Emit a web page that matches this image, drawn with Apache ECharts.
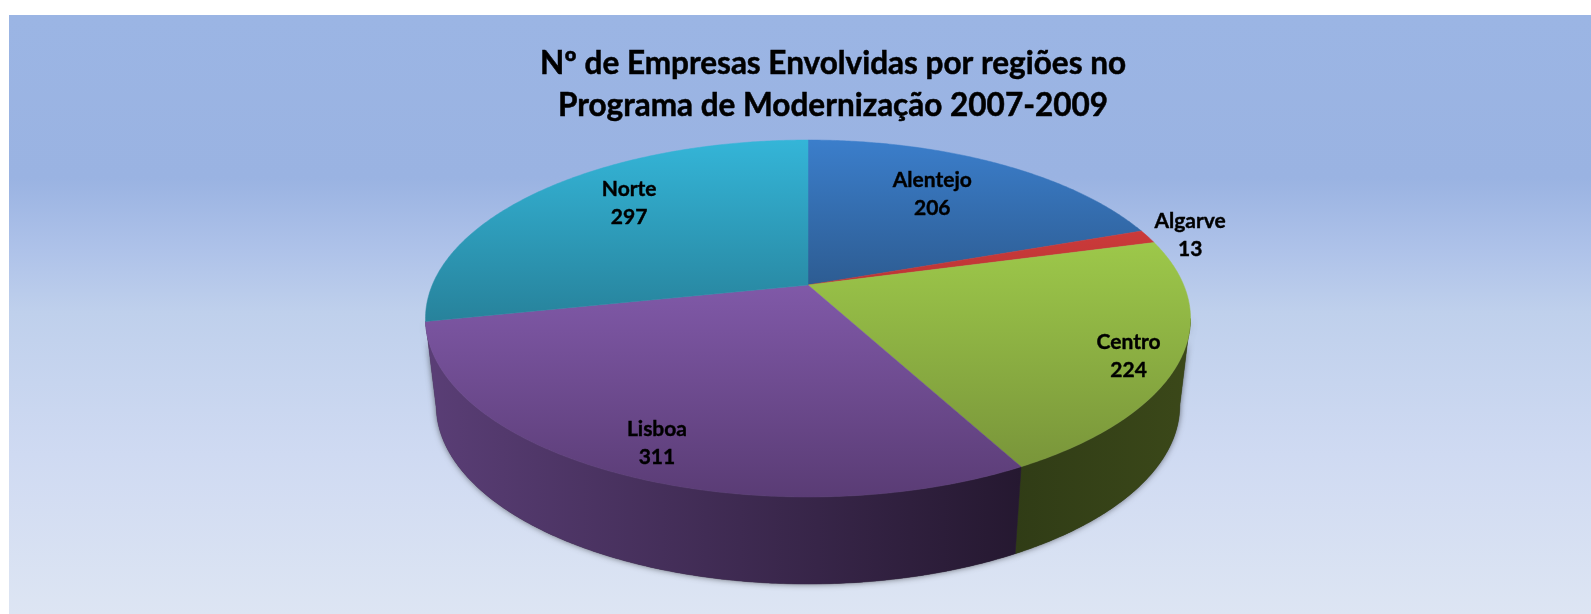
<!DOCTYPE html>
<html>
<head>
<meta charset="utf-8">
<title>Empresas por regiões</title>
<style>
    html, body { margin: 0; padding: 0; background: #fff; }
    #main { width: 1591px; height: 614px; }
</style>
<script src="https://cdn.jsdelivr.net/npm/echarts@6/dist/echarts.min.js"></script>
</head>
<body>
<div id="main"></div>
<script>
var regions = ['Alentejo', 'Algarve', 'Centro', 'Lisboa', 'Norte'];
var values = [206, 13, 224, 311, 297];

//cor de cada fatia: topo e base do gradiente
var topColors = ['#3b7ecb', '#cb3a3a', '#9dc84a', '#8059a8', '#34b5d8'];
var bottomColors = ['#2d5c92', '#bd3535', '#79953a', '#5a3c75', '#27829b'];
//lateral: esquerda e direita
var sideLeft = ['#2f3c16', '#2f3c16', '#303c16', '#5a3e76', '#2f3c16'];
var sideRight = ['#2f3c16', '#2f3c16', '#3b4819', '#251830', '#2f3c16'];
//deslocamento do rotulo em relacao ao meio da fatia
var labelNudge = [[-4, -8], [157, -18], [85, 25], [-35, 44], [-3, -16]];

//perspectiva do disco
var cx = 808, cy = 285, rx = 375.7, ry = 172.2, persp = 0.1877;
var depth = 87, baseScale = 0.972;

var total = values.reduce(function (a, b) { return a + b; }, 0);
var starts = [];
values.reduce(function (acc, v, i) {
    starts[i] = acc;
    return acc + v;
}, 0);

//angulos onde a lateral encosta no contorno do disco
var edgeRight = Math.acos(-persp) * 180 / Math.PI;
var edgeLeft = 360 - edgeRight;

function angleOf(v) {
    return v / total * 360;
}

function project(deg, r) {
    var t = deg * Math.PI / 180;
    var w = 1 + persp * r * Math.cos(t);
    return [cx + rx * r * Math.sin(t) / w, cy - ry * r * Math.cos(t) / w];
}

function toBase(p) {
    return [cx + (p[0] - cx) * baseScale, p[1] + depth];
}

function arc(from, to) {
    var pts = [];
    var n = Math.ceil((to - from) * 2);
    for (var i = 0; i <= n; i++) {
        pts.push(project(from + (to - from) * i / n, 1));
    }
    return pts;
}

function sidePoints(i) {
    var from = Math.max(angleOf(starts[i]), edgeRight);
    var to = Math.min(angleOf(starts[i] + values[i]), edgeLeft);
    var rim = arc(from, to);
    return rim.concat(rim.map(toBase).reverse());
}

function isFront(i) {
    var mid = angleOf(starts[i] + values[i] / 2);
    return mid > edgeRight && mid < edgeLeft;
}

function gradient(x2, y2, c0, c1) {
    return {
        type: 'linear', x: 0, y: 0, x2: x2, y2: y2,
        colorStops: [{ offset: 0, color: c0 }, { offset: 1, color: c1 }]
    };
}

function renderShadow(params) {
    var i = params.dataIndex;
    if (!isFront(i)) return;
    return {
        type: 'polygon',
        shape: { points: sidePoints(i) },
        style: {
            fill: '#333',
            shadowBlur: 6,
            shadowColor: 'rgba(0,0,0,0.55)'
        }
    };
}

function renderSide(params) {
    var i = params.dataIndex;
    if (!isFront(i)) return;
    var fill = gradient(1, 0, sideLeft[i], sideRight[i]);
    return {
        type: 'polygon',
        shape: { points: sidePoints(i) },
        style: { fill: fill, stroke: fill, lineWidth: 0.5 }
    };
}

function renderTop(params) {
    var i = params.dataIndex;
    var from = angleOf(starts[i]);
    var to = angleOf(starts[i] + values[i]);
    var mid = (from + to) / 2;
    var fill = gradient(0, 1, topColors[i], bottomColors[i]);
    var anchor = project(mid, 0.65);
    return {
        type: 'group',
        children: [{
            type: 'polygon',
            shape: { points: [[cx, cy]].concat(arc(from, to)) },
            style: { fill: fill, stroke: fill, lineWidth: 0.5 }
        }, {
            type: 'text',
            z2: 10,
            style: {
                text: regions[i] + '\n' + values[i],
                x: anchor[0] + labelNudge[i][0],
                y: anchor[1] + labelNudge[i][1],
                fill: '#000',
                stroke: '#000',
                lineWidth: 0.4,
                font: 'bold 21px Lato',
                lineHeight: 28,
                align: 'center',
                verticalAlign: 'middle'
            }
        }]
    };
}

var seriesData = regions.map(function (name, i) {
    return { name: name, value: values[i] };
});

var chartId = echarts.init(document.getElementById('main'));
var option = {
    animation: false,
    title: {
        text: 'Nº de Empresas Envolvidas por regiões no\nPrograma de Modernização 2007-2009',
        left: 828,
        top: 38,
        textAlign: 'center',
        textStyle: {
            color: '#000',
            fontFamily: 'Lato',
            fontWeight: 'bold',
            fontSize: 31.5,
            lineHeight: 42,
            textBorderColor: '#000',
            textBorderWidth: 0.5
        }
    },
    graphic: [{
        type: 'rect',
        z: -1,
        shape: { x: 9, y: 15, width: 1582, height: 599 },
        style: {
            fill: {
                type: 'linear', x: 0, y: 0, x2: 0, y2: 1,
                colorStops: [
                    { offset: 0, color: '#9bb5e4' },
                    { offset: 0.272, color: '#9ab3e2' },
                    { offset: 0.392, color: '#aec2e9' },
                    { offset: 0.497, color: '#bfd0ec' },
                    { offset: 0.733, color: '#cfdaf2' },
                    { offset: 1, color: '#dde5f3' }
                ]
            }
        }
    }],
    series: [
        { type: 'custom', coordinateSystem: 'none', z: 1, silent: true, renderItem: renderShadow, data: seriesData },
        { type: 'custom', coordinateSystem: 'none', z: 2, silent: true, renderItem: renderSide, data: seriesData },
        { type: 'custom', coordinateSystem: 'none', z: 3, silent: true, renderItem: renderTop, data: seriesData }
    ]
};
chartId.setOption(option);
</script>
</body>
</html>
